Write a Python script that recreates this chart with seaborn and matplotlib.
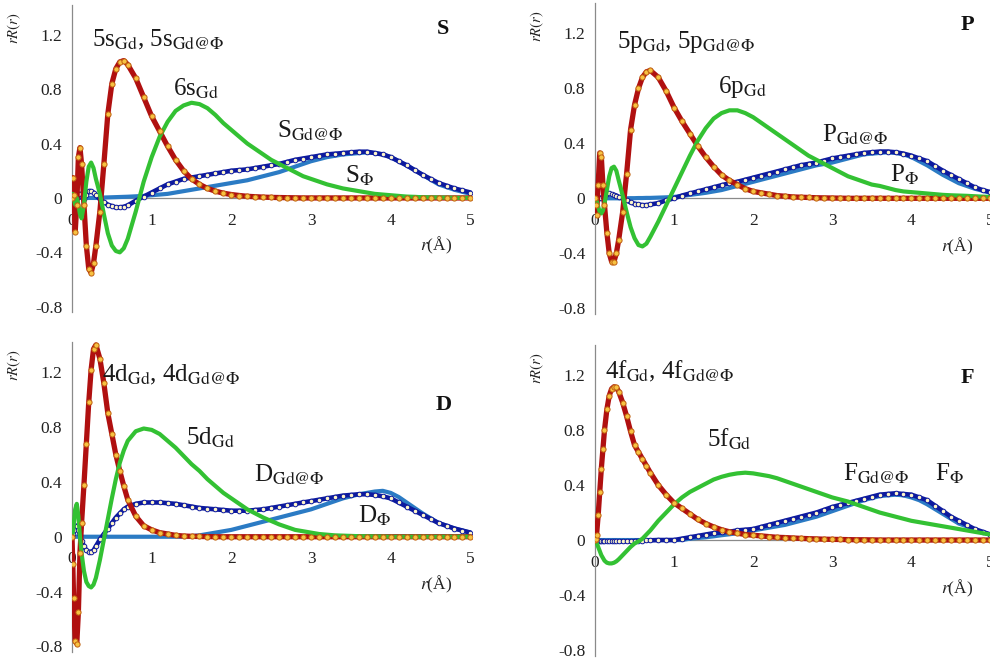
import matplotlib
matplotlib.use("Agg")
import matplotlib.pyplot as plt
import seaborn as sns

# radial grid (Angstrom)
R = [0, 0.01, 0.02, 0.04, 0.06, 0.08, 0.10, 0.12, 0.15, 0.18, 0.21, 0.24, 0.27, 0.30,
     0.35, 0.40, 0.45, 0.50, 0.55, 0.60, 0.65,
     0.7, 0.8, 0.9, 1.0, 1.1, 1.2, 1.3, 1.4, 1.5, 1.6, 1.7, 1.8, 1.9,
     2.0, 2.1, 2.2, 2.3, 2.4, 2.5, 2.6, 2.7, 2.8, 2.9,
     3.0, 3.1, 3.2, 3.3, 3.4, 3.5, 3.6, 3.7, 3.8, 3.9,
     4.0, 4.1, 4.2, 4.3, 4.4, 4.5, 4.6, 4.7, 4.8, 4.9, 5.0]

# ---- S panel ----
s_inner = [0, 0.15, 0.02, -0.25, -0.05, 0.30, 0.37, 0.25, -0.05, -0.35, -0.52, -0.55, -0.48, -0.35,
           -0.10, 0.25, 0.62, 0.84, 0.95, 1.00, 1.01,
           0.98, 0.88, 0.74, 0.60, 0.49, 0.38, 0.28, 0.20, 0.14, 0.10, 0.07, 0.05, 0.035,
           0.025, 0.018, 0.012, 0.009, 0.006, 0.004, 0.003, 0.002, 0.001, 0,
           0, 0, 0, 0, 0, 0, 0, 0, 0, 0,
           0, 0, 0, 0, 0, 0, 0, 0, 0, 0, 0]
s_outer = [0, 0.03, 0.0, -0.05, 0.0, -0.05, -0.12, -0.15, -0.05, 0.12, 0.23, 0.26, 0.22, 0.14,
           0.03, -0.12, -0.26, -0.35, -0.39, -0.40, -0.37,
           -0.30, -0.10, 0.12, 0.30, 0.45, 0.56, 0.64, 0.68, 0.70, 0.69, 0.66, 0.61, 0.55,
           0.50, 0.45, 0.40, 0.36, 0.32, 0.28, 0.25, 0.22, 0.19, 0.16,
           0.14, 0.12, 0.10, 0.085, 0.07, 0.06, 0.05, 0.04, 0.03, 0.025,
           0.02, 0.015, 0.01, 0.008, 0.005, 0.004, 0.003, 0.002, 0.001, 0, 0]
s_cage = [0, 0, 0, 0, 0, 0, 0, 0, 0, 0, 0, 0, 0, 0,
          0.002, 0.003, 0.004, 0.005, 0.006, 0.007, 0.008,
          0.009, 0.012, 0.015, 0.02, 0.025, 0.03, 0.04, 0.05, 0.06, 0.07, 0.08, 0.09, 0.10,
          0.11, 0.12, 0.13, 0.145, 0.16, 0.175, 0.19, 0.21, 0.23, 0.25,
          0.27, 0.285, 0.30, 0.31, 0.32, 0.325, 0.33, 0.335, 0.33, 0.32,
          0.30, 0.27, 0.24, 0.205, 0.17, 0.135, 0.10, 0.08, 0.06, 0.045, 0.03]
s_hybrid = [0, 0.02, 0.0, -0.03, 0.0, 0.03, 0.03, 0.01, -0.01, 0.02, 0.05, 0.05, 0.04, 0.02,
            -0.01, -0.03, -0.05, -0.06, -0.07, -0.07, -0.065,
            -0.055, -0.02, 0.01, 0.04, 0.07, 0.10, 0.12, 0.14, 0.15, 0.16, 0.17, 0.18, 0.19,
            0.20, 0.205, 0.21, 0.22, 0.23, 0.24, 0.25, 0.265, 0.28, 0.29,
            0.30, 0.31, 0.32, 0.325, 0.33, 0.335, 0.34, 0.34, 0.33, 0.32,
            0.30, 0.27, 0.24, 0.205, 0.17, 0.14, 0.11, 0.09, 0.07, 0.055, 0.04]

# ---- P panel ----
p_inner = [0, -0.05, -0.12, 0.10, 0.33, 0.30, 0.10, -0.05, -0.25, -0.40, -0.46, -0.46, -0.40, -0.30,
           -0.10, 0.18, 0.50, 0.68, 0.80, 0.88, 0.92,
           0.93, 0.88, 0.78, 0.66, 0.56, 0.47, 0.38, 0.30, 0.23, 0.17, 0.13, 0.10, 0.07,
           0.05, 0.04, 0.03, 0.02, 0.015, 0.01, 0.008, 0.006, 0.004, 0.003,
           0.002, 0.001, 0, 0, 0, 0, 0, 0, 0, 0,
           0, 0, 0, 0, 0, 0, 0, 0, 0, 0, 0]
p_outer = [0, 0, -0.02, -0.06, -0.10, -0.11, -0.09, -0.04, 0.06, 0.16, 0.22, 0.23, 0.20, 0.13,
           0.02, -0.10, -0.21, -0.29, -0.34, -0.35, -0.33,
           -0.28, -0.17, -0.05, 0.07, 0.19, 0.31, 0.42, 0.51, 0.58, 0.62, 0.64, 0.64, 0.62,
           0.59, 0.55, 0.51, 0.47, 0.43, 0.39, 0.35, 0.31, 0.28, 0.25,
           0.22, 0.19, 0.16, 0.14, 0.12, 0.10, 0.09, 0.075, 0.06, 0.05,
           0.045, 0.04, 0.035, 0.03, 0.025, 0.022, 0.02, 0.018, 0.015, 0.012, 0.01]
p_cage = [0, 0, 0, 0, 0, 0, 0, 0, 0, 0, 0, 0, 0, 0,
          0, 0, 0.001, 0.001, 0.002, 0.002, 0.003,
          0.003, 0.005, 0.007, 0.01, 0.017, 0.025, 0.032, 0.04, 0.05, 0.06, 0.075, 0.09, 0.105,
          0.12, 0.135, 0.15, 0.165, 0.18, 0.195, 0.21, 0.225, 0.24, 0.25,
          0.26, 0.275, 0.29, 0.305, 0.32, 0.325, 0.33, 0.335, 0.33, 0.32,
          0.30, 0.27, 0.24, 0.205, 0.17, 0.14, 0.11, 0.09, 0.07, 0.055, 0.04]
p_hybrid = [0, 0.0, 0.01, 0.01, 0.0, 0.0, 0.01, 0.02, 0.03, 0.035, 0.03, 0.025, 0.02, 0.01,
            0.0, -0.015, -0.03, -0.04, -0.045, -0.05, -0.05,
            -0.045, -0.035, -0.015, 0.0, 0.02, 0.035, 0.05, 0.065, 0.08, 0.095, 0.11, 0.12, 0.135,
            0.15, 0.165, 0.18, 0.195, 0.21, 0.225, 0.24, 0.25, 0.26, 0.275,
            0.29, 0.30, 0.31, 0.32, 0.33, 0.335, 0.34, 0.34, 0.335, 0.325,
            0.31, 0.29, 0.27, 0.235, 0.20, 0.17, 0.14, 0.11, 0.08, 0.06, 0.045]

# ---- D panel ----
d_inner = [0, -0.20, -0.45, -0.76, -0.78, -0.55, -0.12, 0.10, 0.38, 0.68, 0.98, 1.22, 1.37, 1.40,
           1.30, 1.12, 0.90, 0.75, 0.60, 0.48, 0.37,
           0.27, 0.15, 0.08, 0.05, 0.03, 0.02, 0.01, 0.005, 0.003, 0.002, 0.001, 0, 0,
           0, 0, 0, 0, 0, 0, 0, 0, 0, 0,
           0, 0, 0, 0, 0, 0, 0, 0, 0, 0,
           0, 0, 0, 0, 0, 0, 0, 0, 0, 0, 0]
d_outer = [0, 0.03, 0.08, 0.20, 0.24, 0.15, 0.0, -0.12, -0.25, -0.33, -0.36, -0.37, -0.35, -0.30,
           -0.17, -0.02, 0.13, 0.28, 0.42, 0.54, 0.63,
           0.70, 0.77, 0.79, 0.78, 0.75, 0.70, 0.65, 0.59, 0.53, 0.48, 0.42, 0.37, 0.32,
           0.28, 0.24, 0.20, 0.17, 0.14, 0.115, 0.09, 0.07, 0.05, 0.04,
           0.03, 0.02, 0.015, 0.01, 0.008, 0.006, 0.004, 0.003, 0.002, 0.001,
           0, 0, 0, 0, 0, 0, 0, 0, 0, 0, 0]
d_cage = [0, 0, 0, 0, 0, 0, 0, 0, 0, 0, 0, 0, 0, 0,
          0, 0, 0, 0, 0, 0, 0,
          0, 0, 0, 0, 0, 0, 0, 0, 0.005, 0.01, 0.02, 0.03, 0.04,
          0.05, 0.065, 0.08, 0.095, 0.11, 0.125, 0.14, 0.155, 0.17, 0.185,
          0.20, 0.22, 0.24, 0.26, 0.28, 0.295, 0.31, 0.32, 0.33, 0.335,
          0.32, 0.29, 0.25, 0.21, 0.17, 0.135, 0.10, 0.08, 0.06, 0.045, 0.03]
d_hybrid = [0, 0.02, 0.05, 0.08, 0.08, 0.05, 0.01, -0.03, -0.07, -0.10, -0.11, -0.11, -0.10, -0.07,
            -0.02, 0.02, 0.06, 0.10, 0.14, 0.17, 0.20,
            0.22, 0.24, 0.25, 0.25, 0.25, 0.245, 0.24, 0.23, 0.22, 0.21, 0.205, 0.20, 0.195,
            0.19, 0.19, 0.19, 0.195, 0.20, 0.21, 0.22, 0.23, 0.24, 0.25,
            0.26, 0.27, 0.28, 0.29, 0.30, 0.305, 0.31, 0.31, 0.305, 0.295,
            0.28, 0.25, 0.22, 0.19, 0.16, 0.13, 0.10, 0.08, 0.06, 0.045, 0.03]

# ---- F panel ----
f_inner = [0, 0.01, 0.04, 0.18, 0.35, 0.52, 0.66, 0.80, 0.95, 1.05, 1.10, 1.115, 1.11, 1.08,
           1.00, 0.90, 0.79, 0.69, 0.64, 0.59, 0.54,
           0.49, 0.40, 0.33, 0.27, 0.23, 0.19, 0.15, 0.12, 0.095, 0.075, 0.06, 0.05, 0.04,
           0.035, 0.03, 0.025, 0.02, 0.018, 0.015, 0.012, 0.01, 0.008, 0.006,
           0.005, 0.004, 0.003, 0.002, 0.002, 0.001, 0, 0, 0, 0,
           0, 0, 0, 0, 0, 0, 0, 0, 0, 0, 0]
f_outer = [0, -0.01, -0.02, -0.05, -0.08, -0.11, -0.13, -0.15, -0.165, -0.17, -0.17, -0.165, -0.155, -0.14,
           -0.11, -0.08, -0.05, -0.025, -0.01, 0.01, 0.04,
           0.07, 0.14, 0.20, 0.26, 0.31, 0.35, 0.38, 0.41, 0.44, 0.46, 0.475, 0.485, 0.49,
           0.485, 0.475, 0.465, 0.45, 0.43, 0.41, 0.39, 0.37, 0.35, 0.33,
           0.31, 0.295, 0.28, 0.26, 0.24, 0.22, 0.20, 0.185, 0.17, 0.155,
           0.14, 0.13, 0.12, 0.11, 0.10, 0.09, 0.08, 0.07, 0.06, 0.05, 0.04]
f_cage = [0, 0, 0, 0, 0, 0, 0, 0, 0, 0, 0, 0, 0, 0,
          0, 0, 0, 0, 0, 0, 0,
          0, 0, 0, 0, 0, 0.01, 0.015, 0.02, 0.027, 0.035, 0.042, 0.05, 0.06,
          0.07, 0.08, 0.09, 0.10, 0.11, 0.125, 0.14, 0.155, 0.17, 0.19,
          0.21, 0.23, 0.25, 0.27, 0.29, 0.305, 0.32, 0.325, 0.33, 0.325,
          0.31, 0.29, 0.26, 0.225, 0.19, 0.155, 0.12, 0.10, 0.07, 0.055, 0.04]
f_hybrid = [0, 0, 0, -0.005, -0.01, -0.01, -0.01, -0.01, -0.01, -0.01, -0.01, -0.01, -0.01, -0.01,
            -0.01, -0.01, -0.01, -0.008, -0.006, -0.005, -0.003,
            -0.002, 0.0, 0.0, 0.0, 0.01, 0.02, 0.03, 0.04, 0.05, 0.055, 0.06, 0.07, 0.075,
            0.08, 0.095, 0.11, 0.125, 0.14, 0.155, 0.17, 0.185, 0.20, 0.22,
            0.24, 0.255, 0.27, 0.285, 0.30, 0.315, 0.33, 0.335, 0.34, 0.335,
            0.33, 0.31, 0.29, 0.25, 0.21, 0.17, 0.14, 0.11, 0.08, 0.06, 0.04]

# labels: (text, x, y) in data units
s_labels = [("5s$_{\\mathrm{Gd}}$, 5s$_{\\mathrm{Gd@\\Phi}}$", 0.25, 1.16),
            ("6s$_{\\mathrm{Gd}}$", 1.27, 0.80),
            ("S$_{\\mathrm{Gd@\\Phi}}$", 2.57, 0.49),
            ("S$_{\\Phi}$", 3.43, 0.16)]
p_labels = [("5p$_{\\mathrm{Gd}}$, 5p$_{\\mathrm{Gd@\\Phi}}$", 0.28, 1.14),
            ("6p$_{\\mathrm{Gd}}$", 1.56, 0.81),
            ("P$_{\\mathrm{Gd@\\Phi}}$", 2.87, 0.46),
            ("P$_{\\Phi}$", 3.73, 0.17)]
d_labels = [("4d$_{\\mathrm{Gd}}$, 4d$_{\\mathrm{Gd@\\Phi}}$", 0.38, 1.18),
            ("5d$_{\\mathrm{Gd}}$", 1.43, 0.72),
            ("D$_{\\mathrm{Gd@\\Phi}}$", 2.28, 0.45),
            ("D$_{\\Phi}$", 3.59, 0.15)]
f_labels = [("4f$_{\\mathrm{Gd}}$, 4f$_{\\mathrm{Gd@\\Phi}}$", 0.13, 1.23),
            ("5f$_{\\mathrm{Gd}}$", 1.42, 0.73),
            ("F$_{\\mathrm{Gd@\\Phi}}$", 3.14, 0.48),
            ("F$_{\\Phi}$", 4.30, 0.48)]

RED = "#B01010"
GREEN = "#33C133"
BLUE = "#2B7BC4"
NAVY = "#0D1A9E"

sns.set_style("white")
plt.rcParams["font.family"] = ["Liberation Serif", "DejaVu Serif"]
plt.rcParams["mathtext.fontset"] = "stix"

fig = plt.figure(figsize=(9.9, 6.61), dpi=100)


def draw_panel(rect, inner, outer, cage, hybrid, labels, letter, letter_pos):
    ax = fig.add_axes(rect)
    sns.lineplot(x=R, y=cage, ax=ax, color=BLUE, linewidth=3.0, estimator=None, zorder=2)
    sns.lineplot(x=R, y=hybrid, ax=ax, color=NAVY, linewidth=3.3, estimator=None, zorder=3)
    sns.scatterplot(x=R, y=hybrid, ax=ax, s=11, color="#FFF6C8", edgecolor=NAVY,
                    linewidth=0.7, zorder=4)
    sns.lineplot(x=R, y=inner, ax=ax, color=RED, linewidth=3.8, estimator=None, zorder=5)
    sns.lineplot(x=R, y=outer, ax=ax, color=GREEN, linewidth=3.0, estimator=None, zorder=6)
    sns.scatterplot(x=R, y=inner, ax=ax, s=14, color="#F7C242", edgecolor="#C06010",
                    linewidth=0.7, zorder=7)

    ax.set_xlim(0, 5.02)
    ax.set_ylim(-0.84, 1.42)
    ax.set_xticks([0, 1, 2, 3, 4, 5])
    ax.set_yticks([-0.8, -0.4, 0, 0.4, 0.8, 1.2])
    ax.set_yticklabels(["-0.8", "-0.4", "0", "0.4", "0.8", "1.2"])
    ax.spines["top"].set_visible(False)
    ax.spines["right"].set_visible(False)
    ax.spines["bottom"].set_position(("data", 0))
    for sp in ("left", "bottom"):
        ax.spines[sp].set_color("#8a8a8a")
        ax.spines[sp].set_linewidth(0.9)
        ax.spines[sp].set_zorder(1)
    ax.tick_params(axis="y", direction="out", length=4, color="#8a8a8a",
                   labelsize=12.5, labelcolor="#222222", pad=3)
    ax.tick_params(axis="x", direction="inout", length=5, color="#8a8a8a",
                   labelsize=12.5, labelcolor="#222222", pad=8)
    ax.set_xlabel("")
    ax.set_ylabel("")
    ax.patch.set_alpha(0)

    for text, x, y in labels:
        ax.text(x, y, text, fontsize=18, ha="left", va="center", color="#1a1a1a", zorder=8)
    ax.text(letter_pos[0], letter_pos[1], letter, fontsize=16, fontweight="bold",
            ha="center", va="center", color="#111111")
    ax.text(4.37, -0.35, "$r$(Å)", fontsize=12.5, ha="left", va="center", color="#222222")
    ax.text(-0.145, 0.925, "$rR(r)$", transform=ax.transAxes, rotation=90,
            fontsize=10.5, ha="center", va="center", color="#222222")
    return ax


draw_panel([72 / 990, 0.5277, 400 / 990, 0.465], s_inner, s_outer, s_cage, s_hybrid,
           s_labels, "S", (4.66, 1.24))
draw_panel([595 / 990, 0.5253, 397 / 990, 0.470], p_inner, p_outer, p_cage, p_hybrid,
           p_labels, "P", (4.71, 1.26))
draw_panel([72 / 990, 0.0139, 400 / 990, 0.4684], d_inner, d_outer, d_cage, d_hybrid,
           d_labels, "D", (4.66, 0.96))
draw_panel([595 / 990, 0.0083, 397 / 990, 0.470], f_inner, f_outer, f_cage, f_hybrid,
           f_labels, "F", (4.71, 1.18))

fig.savefig("out.png", dpi=100)
